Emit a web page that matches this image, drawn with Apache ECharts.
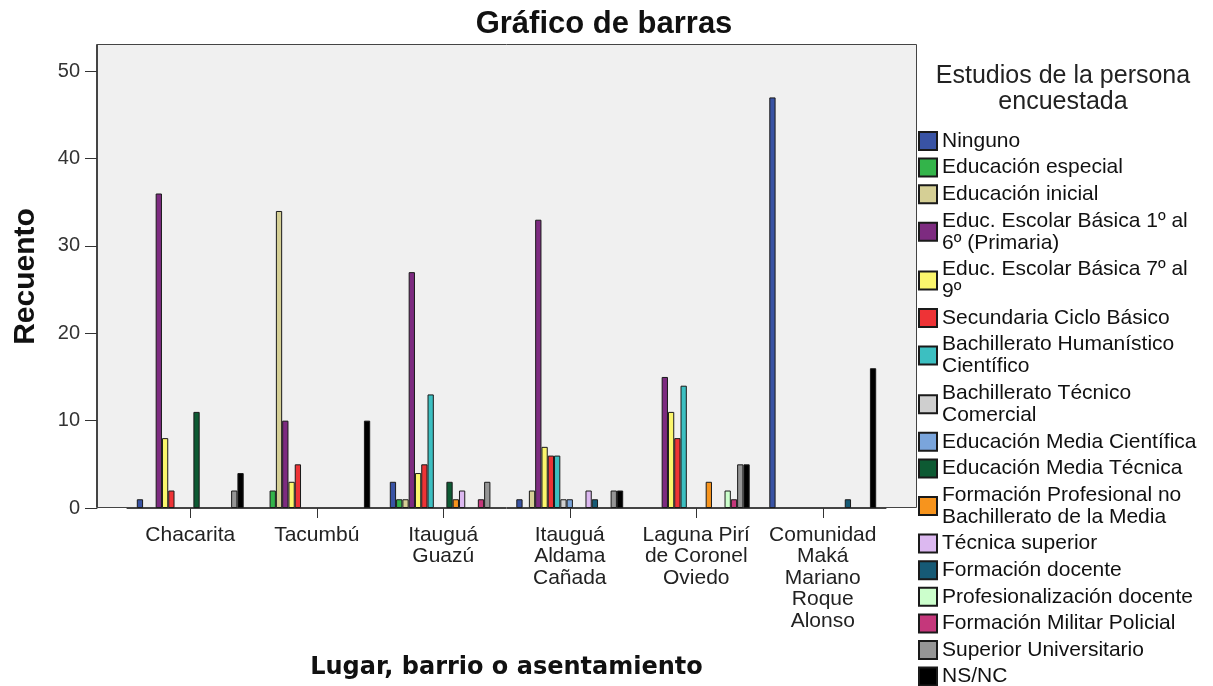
<!DOCTYPE html>
<html>
<head>
<meta charset="utf-8">
<title>Gráfico de barras</title>
<script src="https://cdn.jsdelivr.net/npm/echarts@6/dist/echarts.min.js"></script>
<style>
  html, body { margin: 0; padding: 0; background: #fff; }
  #chart { width: 1213px; height: 686px; }
</style>
</head>
<body>
<div id="chart"></div>
<script>
// lugares (eje x)
var lugares = [
  "Chacarita",
  "Tacumbú",
  "Itauguá\nGuazú",
  "Itauguá\nAldama\nCañada",
  "Laguna Pirí\nde Coronel\nOviedo",
  "Comunidad\nMaká\nMariano\nRoque\nAlonso"
];

var yTicks = [0, 10, 20, 30, 40, 50];

// niveles de estudio (leyenda)
var estudios = [
  "Ninguno",
  "Educación especial",
  "Educación inicial",
  "Educ. Escolar Básica 1º al\n6º (Primaria)",
  "Educ. Escolar Básica 7º al\n9º",
  "Secundaria Ciclo Básico",
  "Bachillerato Humanístico\nCientífico",
  "Bachillerato Técnico\nComercial",
  "Educación Media Científica",
  "Educación Media Técnica",
  "Formación Profesional no\nBachillerato de la Media",
  "Técnica superior",
  "Formación docente",
  "Profesionalización docente",
  "Formación Militar Policial",
  "Superior Universitario",
  "NS/NC"
];

// recuentos por lugar, una lista por nivel
var ninguno        = [1, 0, 3, 1, 0, 47];
var especial       = [0, 2, 1, 0, 0, 0];
var inicial        = [0, 34, 1, 2, 0, 0];
var primaria       = [36, 10, 27, 33, 15, 0];
var basica79       = [8, 3, 4, 7, 11, 0];
var secundaria     = [2, 5, 5, 6, 8, 0];
var bachHumanist   = [0, 0, 13, 6, 14, 0];
var bachTecnico    = [0, 0, 0, 1, 0, 0];
var mediaCientif   = [0, 0, 0, 1, 0, 0];
var mediaTecnica   = [11, 0, 3, 0, 0, 0];
var formProfesional= [0, 0, 1, 0, 3, 0];
var tecSuperior    = [0, 0, 2, 2, 0, 0];
var formDocente    = [0, 0, 0, 1, 0, 1];
var profDocente    = [0, 0, 0, 0, 2, 0];
var militar        = [0, 0, 1, 0, 1, 0];
var supUniv        = [2, 0, 3, 2, 5, 0];
var nsnc           = [4, 10, 0, 2, 5, 16];

var valores = [ninguno, especial, inicial, primaria, basica79, secundaria,
  bachHumanist, bachTecnico, mediaCientif, mediaTecnica, formProfesional,
  tecSuperior, formDocente, profDocente, militar, supUniv, nsnc];

var colores = ["#3953a4", "#33b44a", "#d5cf95", "#7d2b80", "#fbf66d", "#ee3336",
  "#3cbfc1", "#cfcfcf", "#7aa5dc", "#0d5a33", "#f7941d", "#dcb8f0",
  "#165a75", "#ccffcc", "#c5377b", "#959595", "#000000"];

var chart = echarts.init(document.getElementById("chart"));

var series = [];
for (var i = 0; i < estudios.length; i++) {
  series.push({
    name: estudios[i],
    type: "bar",
    barGap: "0%",
    barCategoryGap: "15.5%",
    itemStyle: { color: colores[i], borderColor: "#1a1a1a", borderWidth: 1 },
    data: valores[i].map(function (v) { return v === 0 ? "-" : v; })
  });
}

var option = {
  animation: false,
  backgroundColor: "#fff",
  title: [
    {
      text: "Gráfico de barras",
      left: 604, top: 9, textAlign: "center", padding: 0,
      textStyle: { fontFamily: "Liberation Sans", fontWeight: "bold", fontSize: 31, color: "#111" }
    },
    {
      text: "Estudios de la persona\nencuestada",
      left: 1063, top: 63, textAlign: "center", padding: 0,
      textStyle: { fontFamily: "Liberation Sans", fontWeight: "normal", fontSize: 25, lineHeight: 26, color: "#222" }
    }
  ],
  graphic: [{
    type: "rect", z: -10, silent: true,
    shape: { x: 96.5, y: 44.5, width: 820, height: 463 },
    style: { fill: "#f0f0f0", stroke: "#444", lineWidth: 1 }
  }],
  legend: {
    orient: "vertical",
    left: 918, top: 130, height: 600, padding: 0,
    itemWidth: 18, itemHeight: 18, itemGap: 4.6,
    icon: "rect",
    data: estudios,
    textStyle: { fontFamily: "Liberation Sans", fontSize: 21, lineHeight: 22, color: "#111" }
  },
  grid: { left: 127, right: 327, top: 45, bottom: 178 },
  xAxis: {
    type: "category",
    data: lugares,
    name: "Lugar, barrio o asentamiento",
    nameLocation: "middle",
    nameGap: 148,
    nameMoveOverlap: false,
    nameTextStyle: { fontFamily: "DejaVu Sans", fontWeight: "bold", fontSize: 24, color: "#111" },
    axisLine: { show: true, lineStyle: { color: "#444" } },
    axisTick: { show: true, alignWithLabel: true, length: 10, lineStyle: { color: "#333" } },
    axisLabel: { margin: 16, fontFamily: "Liberation Sans", fontSize: 21, lineHeight: 21.5, color: "#222", interval: 0 },
    splitLine: { show: false }
  },
  yAxis: {
    type: "value",
    min: 0, max: 53, interval: 10,
    offset: 30,
    name: "Recuento",
    nameLocation: "middle",
    nameGap: 56,
    nameMoveOverlap: false,
    nameTextStyle: { fontFamily: "Liberation Sans", fontWeight: "bold", fontSize: 30, color: "#111" },
    axisLine: { show: true, lineStyle: { color: "#444" } },
    axisTick: { show: true, length: 12, lineStyle: { color: "#333" }, customValues: yTicks },
    axisLabel: { margin: 17, fontFamily: "Liberation Sans", fontSize: 20, color: "#333", customValues: yTicks },
    splitLine: { show: false }
  },
  series: series
};

chart.setOption(option);
</script>
</body>
</html>
